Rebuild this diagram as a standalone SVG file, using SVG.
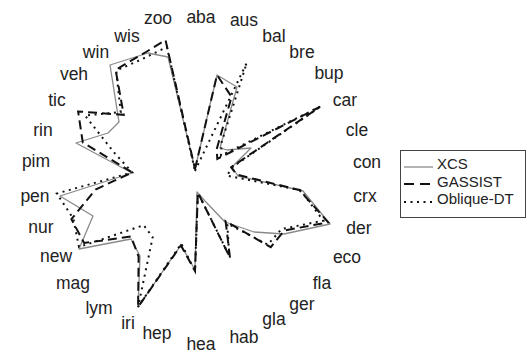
<svg xmlns="http://www.w3.org/2000/svg" width="529" height="354" viewBox="0 0 529 354">
<style>
.lbl{font-family:"Liberation Sans",Arial,sans-serif;font-size:17.5px;fill:#222;text-anchor:middle}
.leg{font-family:"Liberation Sans",Arial,sans-serif;font-size:15px;fill:#222}
.xcs{fill:none;stroke:#8a8a8a;stroke-width:1.3;stroke-linejoin:round}
.gas{fill:none;stroke:#111;stroke-width:2;stroke-dasharray:9 5}
.obl{fill:none;stroke:#111;stroke-width:2;stroke-dasharray:2 4.5}
</style>
<rect width="529" height="354" fill="#fff"/>
<g id="labels">
<text class="lbl" x="201" y="23">aba</text>
<text class="lbl" x="244" y="26">aus</text>
<text class="lbl" x="274" y="42">bal</text>
<text class="lbl" x="302" y="58">bre</text>
<text class="lbl" x="329" y="79">bup</text>
<text class="lbl" x="345" y="106">car</text>
<text class="lbl" x="357" y="136">cle</text>
<text class="lbl" x="367" y="168">con</text>
<text class="lbl" x="365" y="202">crx</text>
<text class="lbl" x="359" y="234">der</text>
<text class="lbl" x="347" y="263">eco</text>
<text class="lbl" x="322" y="289">fla</text>
<text class="lbl" x="302" y="310">ger</text>
<text class="lbl" x="274" y="325">gla</text>
<text class="lbl" x="244" y="343">hab</text>
<text class="lbl" x="201" y="350">hea</text>
<text class="lbl" x="157" y="339">hep</text>
<text class="lbl" x="128" y="329">iri</text>
<text class="lbl" x="99" y="314">lym</text>
<text class="lbl" x="73" y="289">mag</text>
<text class="lbl" x="56" y="262">new</text>
<text class="lbl" x="41" y="233">nur</text>
<text class="lbl" x="35" y="202">pen</text>
<text class="lbl" x="36" y="167">pim</text>
<text class="lbl" x="43" y="136">rin</text>
<text class="lbl" x="57" y="106">tic</text>
<text class="lbl" x="74" y="80">veh</text>
<text class="lbl" x="96" y="58">win</text>
<text class="lbl" x="127" y="42">wis</text>
<text class="lbl" x="158" y="24">zoo</text>
</g>
<g id="connectors">
<polygon id="series-xcs" class="xcs" points="195,169 217,75 237,87 220,148 227,150 251,148 232,167 238,176 303,191 330,224 284,234 254,232 225,222 205,201 197,192 195,270 181,245 138,307 140,256 131,239 79,249 93,216 60,196 132,173 76,143 108,133 119,122 110,65 148,53 168,57"/>
<polygon id="series-gassist" class="gas" points="195,169 217,75 231.6,96.8 216.7,149.1 217.3,158.9 319.7,107 231.1,167.3 236.8,174.6 299.4,190 328.2,222.3 284.2,230.5 270.8,247.2 225.6,221.1 230,257.6 197.9,192.7 195,271 180.9,245.5 138.1,306.9 138.6,256.7 131.1,236.5 84.1,243 71.4,219.2 95.5,189.5 132.3,172.4 82.8,142.5 78.1,111.5 123.7,114.8 115.6,69.8 146,52 165.5,40.1"/>
<polygon id="series-oblique" class="obl" points="195,171 198.1,164.3 246.7,63 221.5,142.6 221,155.6 321.4,106 233,166.6 226.8,175.7 300.4,190.1 323.4,220.7 281.6,229 267.8,244.6 227.3,223.5 229.2,255.7 197.9,192.7 195,271 181.3,243.6 138.1,306.9 152.7,237.2 143.7,225.2 79,247 73.3,218.6 56.8,193.5 132.3,172.4 114.2,152.7 85,115.5 120.7,112.1 116.2,70.6 141.7,59.3 166.9,47"/>
</g>
<g id="legend">
<rect x="400.5" y="150.5" width="125" height="67" fill="#fff" stroke="#444" stroke-width="1"/>
<line x1="404" y1="167" x2="433" y2="167" stroke="#8a8a8a" stroke-width="1.3"/>
<line x1="404" y1="184" x2="433" y2="184" stroke="#111" stroke-width="2" stroke-dasharray="10 6"/>
<line x1="404" y1="202" x2="433" y2="202" stroke="#111" stroke-width="2" stroke-dasharray="2 4.5"/>
<text class="leg" x="437" y="169">XCS</text>
<text class="leg" x="437" y="187">GASSIST</text>
<text class="leg" x="437" y="204">Oblique-DT</text>
</g>
</svg>
